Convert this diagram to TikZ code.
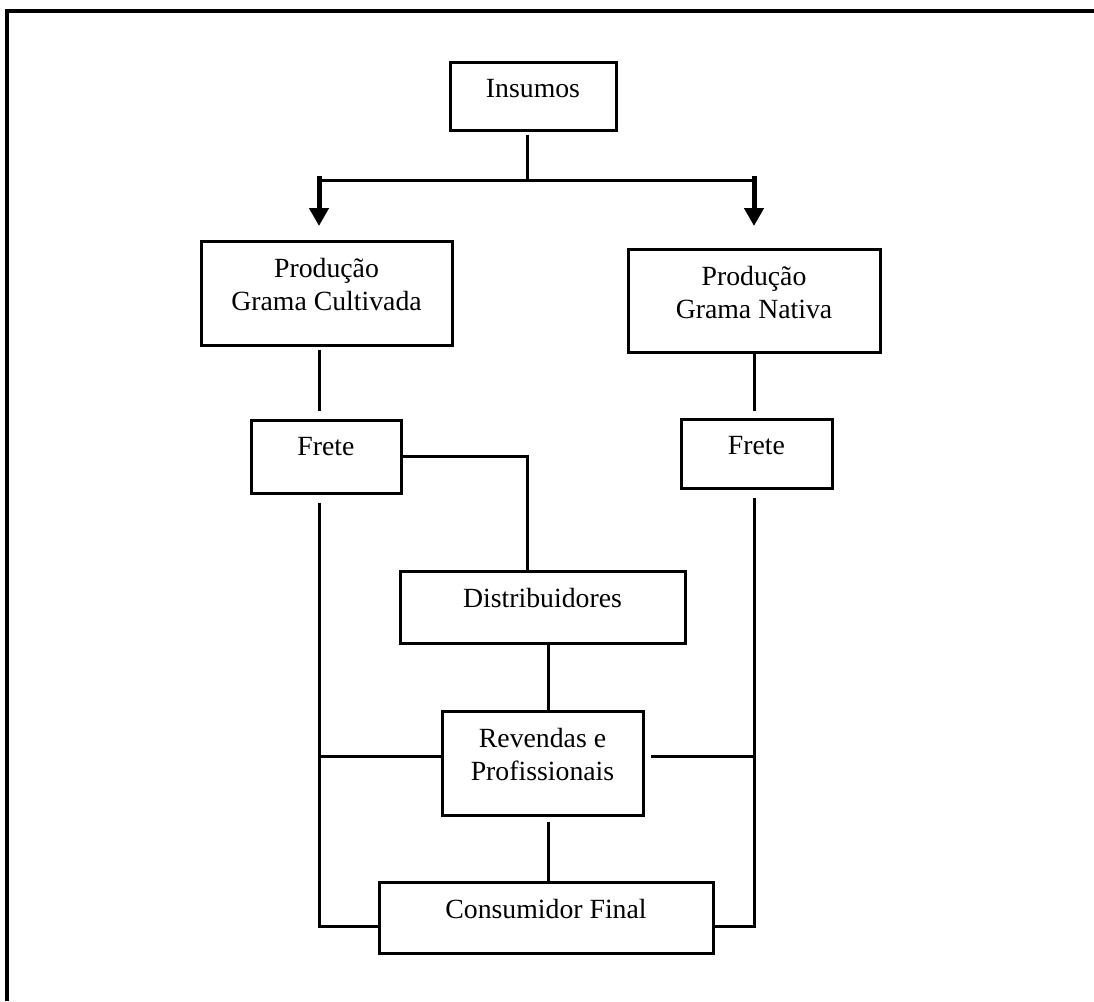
\documentclass[tikz,border=0pt]{standalone}
\usepackage{fontspec}
\setmainfont{Liberation Serif}
\usetikzlibrary{arrows.meta,fit}

\begin{document}
\begin{tikzpicture}[x=0.02cm,y=-0.02cm,
    caixa/.style={draw, line width=0.06cm, inner sep=0pt},
    rotulo/.style={anchor=north, yshift=-0.36cm, inner sep=0pt, align=center,
        font=\fontsize{15.8}{19}\selectfont},
    liga/.style={line width=0.06cm},
    seta/.style={line width=0.1cm, -{Triangle[length=0.36cm,width=0.38cm]}}]

    \useasboundingbox (0,0) rectangle (1094,1001);

    %moldura
    \draw[line width=0.07cm] (7,1001) -- (7,11) -- (1094,11);

    %caixas
    \node[caixa, fit={(450,62) (616,130)}, label={[rotulo]north:Insumos}] (insumos) {};
    \node[caixa, fit={(201,241) (452,345)}, label={[rotulo]north:{Produção\\Grama Cultivada}}] (prodC) {};
    \node[caixa, fit={(628,249) (880,352)}, label={[rotulo]north:{Produção\\Grama Nativa}}] (prodN) {};
    \node[caixa, fit={(251,420) (401,493)}, label={[rotulo]north:Frete}] (freteC) {};
    \node[caixa, fit={(681,419) (832,488)}, label={[rotulo]north:Frete}] (freteN) {};
    \node[caixa, fit={(400,571) (685,643)}, label={[rotulo]north:Distribuidores}] (distr) {};
    \node[caixa, fit={(442,711) (643,815)}, label={[rotulo]north:{Revendas e\\Profissionais}}] (revend) {};
    \node[caixa, fit={(379,882) (713,953)}, label={[rotulo]north:Consumidor Final}] (consum) {};

    %pontos das ligacoes
    \coordinate (colE) at (319,0);
    \coordinate (colM) at (527,0);
    \coordinate (colR) at (548,0);
    \coordinate (colD) at (754,0);
    \coordinate (rE) at (319,180);
    \coordinate (rD) at (754,180);
    \coordinate (sE) at (319,226);
    \coordinate (sD) at (754,226);
    \coordinate (ligE) at (319,756);
    \coordinate (ligD) at (754,756);
    \coordinate (baseE) at (319,926);
    \coordinate (baseD) at (754,926);

    %ligacoes
    \draw[liga, shorten <=2pt] (insumos.south -| colM) -- (colM |- rE);
    \draw[liga] (rE) -- (rD);
    \draw[seta, shorten <=-2pt] (rE) -- (sE);
    \draw[seta, shorten <=-2pt] (rD) -- (sD);

    \draw[liga, shorten <=2pt, shorten >=4pt] (prodC.south -| colE) -- (freteC.north -| colE);
    \draw[liga, shorten >=3.5pt] (prodN.south -| colD) -- (freteN.north -| colD);
    \draw[liga] (freteC.east) -- (colM |- freteC.east) -- (colM |- distr.north);
    \draw[liga] (distr.south -| colR) -- (revend.north -| colR);
    \draw[liga, shorten <=3pt] (revend.south -| colR) -- (consum.north -| colR);

    \draw[liga, shorten <=5pt] (freteC.south -| colE) -- (baseE) -- (consum.west |- baseE);
    \draw[liga, shorten <=5pt] (freteN.south -| colD) -- (baseD) -- (consum.east |- baseD);
    \draw[liga] (ligE) -- (revend.west |- ligE);
    \draw[liga, shorten >=3.5pt] (ligD) -- (revend.east |- ligD);

\end{tikzpicture}
\end{document}
